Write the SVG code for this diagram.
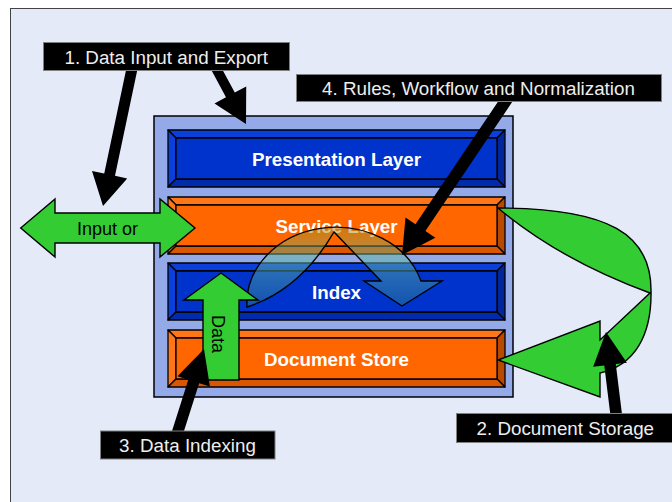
<svg xmlns="http://www.w3.org/2000/svg" width="672" height="502" viewBox="0 0 672 502">
  <style>
    .lbl-box { fill: #000; stroke: #808080; stroke-width: 1; }
    .lbl-txt { font-family: "Liberation Sans", Arial, sans-serif; font-size: 18.8px; fill: #EEEEEE; text-anchor: middle; }
    .layer-txt { font-family: "Liberation Sans", Arial, sans-serif; font-size: 18.8px; font-weight: bold; fill: #FFFFFF; text-anchor: middle; }
    .edge { stroke: #000; stroke-width: 1.3; stroke-linejoin: round; }
    .green { fill: #33CC33; stroke: #000; stroke-width: 1.4; stroke-linejoin: miter; }
    .pointer { fill: #000; }
    .b-face { fill: #0033CC; } .b-top { fill: #0B3FD9; } .b-left { fill: #0B3FD9; } .b-right { fill: #002699; } .b-bot { fill: #002BAD; }
    .o-face { fill: #FF6600; } .o-top { fill: #FF7619; } .o-left { fill: #FF7619; } .o-right { fill: #B84A00; } .o-bot { fill: #D95700; }
    .small-txt { font-family: "Liberation Sans", Arial, sans-serif; font-size: 18px; fill: #000; }
  </style>
  <defs>
    <linearGradient id="flowFill" gradientUnits="userSpaceOnUse" x1="0" y1="232" x2="0" y2="306">
      <stop offset="0" stop-color="#AA8C1E"/>
      <stop offset="0.35" stop-color="#64B8A8"/>
      <stop offset="1" stop-color="#247594"/>
    </linearGradient>
  </defs>

  <!-- page and panel -->
  <rect x="0" y="0" width="672" height="502" fill="#FFFFFF"/>
  <rect x="10.5" y="8.5" width="700" height="520" fill="#E4EAF8" stroke="#444" stroke-width="1"/>

  <!-- stack container -->
  <g id="stack">
    <rect x="154" y="116" width="359" height="281" fill="#93A9E8" stroke="#000" stroke-width="1.5"/>
  </g>

  <!-- Presentation Layer -->
  <g id="presentation-layer" class="edge">
    <polygon class="b-top" points="168,130 505,130 497,138 176,138"/>
    <polygon class="b-left" points="168,130 176,138 176,179 168,187"/>
    <polygon class="b-right" points="505,130 505,187 497,179 497,138"/>
    <polygon class="b-bot" points="168,187 505,187 497,179 176,179"/>
    <rect class="b-face" x="176" y="138" width="321" height="41"/>
    <text class="layer-txt" x="336.5" y="165.5" stroke="none">Presentation Layer</text>
  </g>

  <!-- Service Layer -->
  <g id="service-layer" class="edge">
    <polygon class="o-top" points="168,197 505,197 497,205 176,205"/>
    <polygon class="o-left" points="168,197 176,205 176,246 168,254"/>
    <polygon class="o-right" points="505,197 505,254 497,246 497,205"/>
    <polygon class="o-bot" points="168,254 505,254 497,246 176,246"/>
    <rect class="o-face" x="176" y="205" width="321" height="41"/>
    <text class="layer-txt" x="336.5" y="232.5" stroke="none">Service Layer</text>
  </g>

  <!-- Index -->
  <g id="index-layer" class="edge">
    <polygon class="b-top" points="168,263 505,263 497,271 176,271"/>
    <polygon class="b-left" points="168,263 176,271 176,312 168,320"/>
    <polygon class="b-right" points="505,263 505,320 497,312 497,271"/>
    <polygon class="b-bot" points="168,320 505,320 497,312 176,312"/>
    <rect class="b-face" x="176" y="271" width="321" height="41"/>
    <text class="layer-txt" x="336.5" y="298.5" stroke="none">Index</text>
  </g>

  <!-- Document Store -->
  <g id="document-store" class="edge">
    <polygon class="o-top" points="168,330 505,330 497,338 176,338"/>
    <polygon class="o-left" points="168,330 176,338 176,379 168,387"/>
    <polygon class="o-right" points="505,330 505,387 497,379 497,338"/>
    <polygon class="o-bot" points="168,387 505,387 497,379 176,379"/>
    <rect class="o-face" x="176" y="338" width="321" height="41"/>
    <text class="layer-txt" x="336.5" y="365.5" stroke="none">Document Store</text>
  </g>

  <!-- connectors -->
  <g id="connectors">
    <!-- workflow loop from service layer into index -->
    <path d="M247,307 A89,76 0 0 1 421,281 L442,281 L402,306 L364,281 L381,281 L334,232 Q300,290 247,307 Z"
          fill="url(#flowFill)" fill-opacity="0.5" stroke="#000" stroke-width="1.4" stroke-linejoin="miter"/>

    <!-- input / export double arrow -->
    <polygon class="green" points="20.7,228 55,199 55,213 160,213 160,199 195,228 160,257 160,243 55,243 55,257"/>
    <text class="small-txt" x="107.5" y="235" text-anchor="middle">Input or</text>

    <!-- data from store up to index -->
    <polygon class="green" points="221,273 258,300 239,300 239,380 203,380 203,300 184,300"/>
    <text class="small-txt" transform="translate(212,334) rotate(90)" text-anchor="middle">Data</text>

    <!-- storage loop from service layer down to document store -->
    <path class="green" d="M498,208 C610,208 651,235 651,290 C652,335 635,365 600,373 L600,397 L498,360 L600,321 L600,340 L650,293 Q560,260 498,208 Z"/>

    <!-- pointers from the numbered labels -->
    <polygon class="pointer" points="137.88,67.24 115.0,175.83 127.22,178.41 103,206 92.0,170.97 104.23,173.55 127.12,64.96"/>
    <polygon class="pointer" points="219.21,63.63 234.77,92.57 246.22,86.42 246,124 214.52,103.46 225.97,97.31 210.41,68.37"/>
    <polygon class="pointer" points="513.98,99.35 425.41,230.97 435.36,237.67 402,255 405.5,217.57 415.45,224.27 504.02,92.65"/>
    <polygon class="pointer" points="181.84,437.72 199.15,383.13 209.93,386.55 204,349 177.51,376.27 188.29,379.69 170.98,434.28"/>
    <polygon class="pointer" points="622.37,417.29 615.80,364.04 626.91,362.67 606,332 593.17,366.83 604.28,365.46 610.85,418.71"/>
  </g>

  <!-- numbered labels -->
  <g id="label-1">
    <rect class="lbl-box" x="43.5" y="42.5" width="246" height="28"/>
    <text class="lbl-txt" x="166.3" y="64">1. Data Input and Export</text>
  </g>
  <g id="label-4">
    <rect class="lbl-box" x="296.5" y="74.5" width="365" height="27"/>
    <text class="lbl-txt" x="478.5" y="95">4. Rules, Workflow and Normalization</text>
  </g>
  <g id="label-3">
    <rect class="lbl-box" x="100.5" y="431" width="174.5" height="28"/>
    <text class="lbl-txt" x="187.5" y="452">3. Data Indexing</text>
  </g>
  <g id="label-2">
    <rect class="lbl-box" x="456.5" y="413.5" width="220" height="29"/>
    <text class="lbl-txt" x="565.3" y="435">2. Document Storage</text>
  </g>
</svg>
